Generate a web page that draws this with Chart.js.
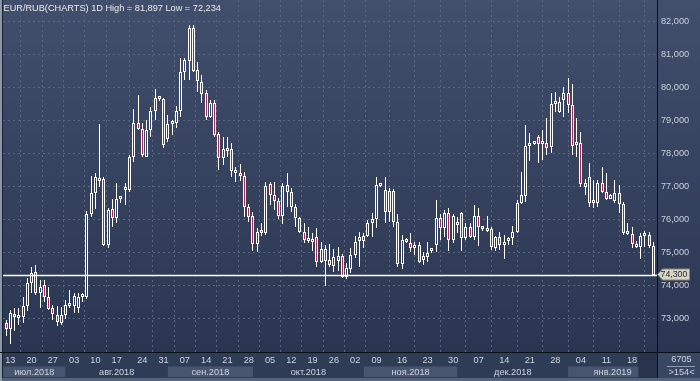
<!DOCTYPE html>
<html><head><meta charset="utf-8">
<script src="https://cdn.jsdelivr.net/npm/chart.js@4.4.1/dist/chart.umd.min.js"></script>
<style>html,body{margin:0;padding:0;background:#2f3c56;overflow:hidden}canvas{display:block}</style>
</head><body>
<canvas id="c" width="700" height="381"></canvas>
<script>
// ---- data (daily candles, EUR/RUB) ----
const open = [72.85,72.67,73.13,73.00,73.03,73.36,74.06,74.41,73.76,74.01,73.66,73.30,73.10,72.87,73.10,73.36,73.37,73.30,73.64,73.64,
76.16,76.81,77.15,77.21,75.22,76.30,76.03,76.60,76.88,76.89,77.90,78.93,78.73,77.90,78.71,79.29,79.66,79.64,78.43,78.89,
78.91,79.29,80.45,80.80,81.79,80.52,80.17,79.82,79.11,79.51,78.58,77.85,78.08,78.12,77.40,77.39,77.31,76.38,76.10,75.25,
75.60,75.59,77.07,76.74,76.56,76.10,77.04,76.84,76.36,76.03,75.63,75.34,75.33,75.45,74.72,75.09,74.77,74.57,74.75,74.89,
74.24,74.48,74.92,75.45,75.35,75.49,75.88,76.00,77.01,76.89,76.87,76.87,75.93,74.64,75.32,75.27,75.12,75.22,74.77,74.87,
75.03,75.22,76.03,75.73,76.20,75.37,75.83,76.18,75.42,75.78,75.47,76.10,75.76,75.66,75.70,75.12,75.45,75.22,75.35,75.42,
75.63,76.50,76.71,78.22,78.29,78.48,78.28,78.30,78.18,79.49,79.56,79.61,79.82,79.46,78.25,78.30,76.97,77.27,76.50,76.50,
77.11,76.84,76.63,76.56,76.81,76.46,75.55,75.55,75.17,75.17,75.49,75.52,75.19];
const high = [72.95,73.25,73.30,73.30,73.64,74.21,74.54,74.62,74.16,74.16,73.96,73.40,73.37,73.35,73.55,73.86,73.78,73.76,73.76,76.26,
77.31,77.41,78.89,77.29,76.33,76.60,77.11,76.70,77.09,77.95,79.33,79.77,78.91,79.01,79.41,79.94,79.72,79.67,79.16,79.01,
79.43,80.88,80.90,81.897,81.88,80.78,80.37,79.92,79.62,79.62,78.65,78.50,78.50,78.30,77.57,77.67,77.44,76.46,76.23,75.73,
75.90,77.14,77.14,77.14,76.66,77.09,77.39,76.94,76.46,76.08,75.88,75.76,75.57,75.73,75.32,75.22,75.25,75.09,75.15,74.95,
74.68,75.12,75.49,75.63,75.59,75.98,76.18,77.27,77.08,77.27,76.94,76.91,76.16,75.52,75.42,75.59,75.32,75.32,75.02,75.32,
75.10,76.58,76.16,76.28,76.33,76.16,76.08,76.23,75.88,75.88,76.43,76.33,75.80,76.10,75.78,75.49,75.63,75.52,75.47,75.80,
76.58,77.44,78.86,78.60,78.36,78.55,78.71,79.06,79.84,79.87,79.72,80.00,80.27,80.10,79.06,78.66,77.21,77.71,77.19,77.19,
77.57,77.39,76.78,77.19,77.04,76.53,75.90,75.78,75.35,75.59,75.66,75.63,75.32];
const low = [72.45,72.234,72.62,72.80,72.85,73.22,73.77,73.71,73.30,73.50,73.24,72.95,72.77,72.80,72.97,73.31,73.15,73.15,73.50,73.60,
76.08,76.30,76.97,75.19,75.12,75.76,75.90,76.50,76.43,76.84,77.75,78.71,77.90,77.88,78.50,79.01,79.58,78.15,78.35,78.55,
78.76,79.10,80.22,80.22,80.47,79.87,79.51,79.01,79.06,78.50,77.50,77.65,77.90,77.29,77.14,77.17,76.06,75.93,75.05,75.02,
75.49,75.52,76.43,76.28,76.00,75.86,76.38,76.23,75.76,75.57,75.27,75.29,75.05,74.54,74.67,73.98,74.54,74.41,74.44,74.21,
74.20,74.36,74.82,74.54,75.12,75.45,75.47,75.73,76.98,75.88,75.93,75.78,74.56,74.48,75.27,75.02,74.92,74.67,74.62,74.72,
74.99,75.02,75.37,75.47,75.05,75.29,75.57,75.05,75.37,75.42,75.37,75.19,75.66,75.62,75.07,75.05,75.07,74.79,75.22,75.22,
75.57,76.45,76.53,77.78,78.24,77.70,77.80,77.95,78.00,79.26,79.23,79.11,79.21,77.95,77.90,76.99,76.74,76.38,76.33,76.38,
76.79,76.58,76.60,76.50,76.20,75.52,75.52,75.12,75.12,74.79,75.17,75.12,74.28];
const close = [72.67,73.15,73.03,73.05,73.36,74.06,74.38,73.76,73.96,73.66,73.27,73.13,72.88,73.10,73.40,73.39,73.68,73.66,73.68,76.16,
76.81,77.27,77.23,75.22,76.28,76.03,76.60,76.62,76.92,77.88,78.93,78.74,77.95,78.71,79.29,79.67,79.64,78.25,78.89,78.95,
79.29,80.45,80.83,81.79,80.49,80.19,79.79,79.11,79.51,78.55,77.85,78.12,78.12,77.45,77.44,77.31,76.38,76.08,75.25,75.62,
75.59,77.01,76.74,76.56,76.10,77.01,76.84,76.38,76.03,75.63,75.37,75.37,75.31,74.72,75.09,74.75,74.62,74.85,74.89,74.26,
74.51,74.92,75.32,75.35,75.49,75.90,76.00,77.04,77.04,76.23,76.23,75.93,74.64,75.37,75.39,75.12,75.22,74.72,74.89,74.99,
75.06,76.03,75.73,76.18,75.37,76.10,75.93,75.42,75.78,75.47,76.10,75.78,75.70,75.70,75.15,75.45,75.22,75.32,75.39,75.63,
76.50,76.74,78.22,78.28,78.32,78.28,78.38,78.15,79.49,79.56,79.26,79.82,79.46,78.22,78.30,77.07,77.09,76.50,76.56,77.11,
76.84,76.63,76.74,76.81,76.46,75.57,75.59,75.24,75.24,75.49,75.52,75.19,74.30];

// week ticks: candle index of the labelled day, and the label
const weekIdx = [1,6,11,16,21,26,32,37,42,47,52,57,62,67,72,77,82,87,93,99,105,111,117,123,129,135,141,147];
const weekLabels = ['13','20','27','03','10','17','24','31','07','14','21','28','05','12','19','26','02','09','16','23','30','07','14','21','28','04','11','18'];
// months: first candle index of each month, and its label
const monthStartIdx = [-1,14,38,58,84,106,132];
const monthLabels = ['июл.2018','авг.2018','сен.2018','окт.2018','ноя.2018','дек.2018','янв.2019'];
const yTicks = [73,74,75,76,77,78,79,80,81,82];
const seriesTitle = 'EUR/RUB(CHARTS) 1D';
const infoTop = '6705';
const infoBottom = '>154<';

// ---- helpers ----
const fmt = v => v.toFixed(3).replace('.', ',');
const FONT = '9.2px "Liberation Sans", Arial, sans-serif';
let gradCache = null;
function bgGradient(ctx){
  if (!gradCache){
    gradCache = ctx.createLinearGradient(0,0,0,352);
    gradCache.addColorStop(0,'#414e6c');
    gradCache.addColorStop(1,'#2a3651');
  }
  return gradCache;
}
const idx = open.map((_, i) => i);
const lastClose = close[close.length-1];

const bgPlugin = {
  id:'bg',
  beforeDraw(chart){
    const ctx = chart.ctx, ca = chart.chartArea, xs = chart.scales.x;
    ctx.save();
    ctx.fillStyle = '#2f3c56'; ctx.fillRect(0,0,700,381);
    ctx.fillStyle = bgGradient(ctx); ctx.fillRect(0,0,700,ca.bottom);
    for (let k=0;k<monthStartIdx.length;k++){
      const x0 = k===0 ? ca.left : xs.getPixelForValue(monthStartIdx[k]);
      const x1 = k===monthStartIdx.length-1 ? ca.right : xs.getPixelForValue(monthStartIdx[k+1]);
      ctx.fillStyle = (k%2===0) ? '#48556f' : '#2f3c56';
      ctx.fillRect(x0, 366.5, x1-x0, 10.5);
    }
    ctx.fillStyle = '#3a4763'; ctx.fillRect(658, 353, 42, 25);
    ctx.fillStyle = '#56637c'; ctx.fillRect(0, 378, 700, 3);
    ctx.fillStyle = '#8a98ae'; ctx.fillRect(0,0,2,381);
    ctx.fillStyle = '#1a2232'; ctx.fillRect(2,0,1,378);
    ctx.restore();
  }
};

const snapPlugin = {
  id:'snap',
  beforeDatasetsDraw(chart){
    chart.data.datasets.forEach((ds, di) => {
      chart.getDatasetMeta(di).data.forEach(el => {
        el.x = Math.round(el.x - 0.5) + 0.5;
        el.y = Math.round(el.y);
        el.base = Math.round(el.base);
      });
    });
  }
};

const overlayPlugin = {
  id:'overlay',
  afterDatasetsDraw(chart){
    const ctx = chart.ctx, ca = chart.chartArea, xs = chart.scales.x, ys = chart.scales.y;
    ctx.save();
    const yp = Math.round(ys.getPixelForValue(lastClose)) + 0.5;
    ctx.strokeStyle = '#ffffff'; ctx.lineWidth = 1.5;
    ctx.beginPath(); ctx.moveTo(ca.left, yp); ctx.lineTo(ca.right, yp); ctx.stroke();
    const xd = xs.getPixelForValue(148.5);
    ctx.fillStyle = '#29344c';
    ctx.fillRect(xd, 353, ca.right - xd, 25);
    ctx.strokeStyle = '#0b0f18'; ctx.lineWidth = 1;
    ctx.beginPath(); ctx.moveTo(0, ca.bottom + 0.5); ctx.lineTo(700, ca.bottom + 0.5); ctx.stroke();
    ctx.beginPath(); ctx.moveTo(ca.right + 0.5, 0); ctx.lineTo(ca.right + 0.5, 378); ctx.stroke();
    ctx.font = FONT; ctx.textBaseline = 'middle'; ctx.textAlign = 'left';
    ctx.fillStyle = '#c9d1de';
    yTicks.forEach(v => ctx.fillText(fmt(v), 661, ys.getPixelForValue(v)));
    // price tag
    const ty = Math.round(ys.getPixelForValue(lastClose)) - 0.5;
    ctx.fillStyle = '#d8d6bf'; ctx.strokeStyle = '#8a8a78';
    ctx.beginPath();
    ctx.moveTo(657.5, ty); ctx.lineTo(662.5, ty - 5.5); ctx.lineTo(689.5, ty - 5.5);
    ctx.lineTo(689.5, ty + 5.5); ctx.lineTo(662.5, ty + 5.5); ctx.closePath();
    ctx.fill(); ctx.stroke();
    ctx.fillStyle = '#1b2540';
    ctx.font = '8.8px "Liberation Sans", Arial, sans-serif';
    ctx.fillText(fmt(lastClose), 660.5, ty + 0.5);
    ctx.font = FONT;
    ctx.fillStyle = '#cdd4e0'; ctx.textAlign = 'center';
    weekIdx.forEach((wi, k) => ctx.fillText(weekLabels[k], xs.getPixelForValue(wi), 360));
    for (let k=0;k<monthStartIdx.length;k++){
      const x0 = k===0 ? ca.left : xs.getPixelForValue(monthStartIdx[k]);
      const x1 = k===monthStartIdx.length-1 ? ca.right : xs.getPixelForValue(monthStartIdx[k+1]);
      ctx.fillText(monthLabels[k], (x0+x1)/2, 372);
    }
    ctx.fillText(infoTop, 681.5, 359.5);
    ctx.fillText(infoBottom, 681.5, 372);
    ctx.strokeStyle = '#8d99ad';
    ctx.beginPath(); ctx.moveTo(667, 366.5); ctx.lineTo(695, 366.5); ctx.stroke();
    const hi = Math.max(...high), lo = Math.min(...low);
    ctx.textAlign = 'left'; ctx.fillStyle = '#e8ebf0';
    ctx.fillText(`${seriesTitle} High = ${fmt(hi)} Low = ${fmt(lo)}`, 3.5, 8);
    ctx.restore();
  }
};

new Chart(document.getElementById('c'), {
  data: {
    datasets: [
      { type:'bar', label:'wick', data: idx.map(i => ({x:i, y:[low[i], high[i]]})),
        backgroundColor:'#ffffff', borderWidth:0, barThickness:1, grouped:false, inflateAmount:0, order:2 },
      { type:'bar', label:'body', data: idx.map(i => ({x:i, y:[open[i], close[i]]})),
        backgroundColor: c => (close[c.dataIndex] >= open[c.dataIndex]) ? bgGradient(c.chart.ctx) : '#a8294b',
        borderColor:'#ffffff', borderWidth:1, borderSkipped:false, barThickness:3, minBarLength:3,
        grouped:false, inflateAmount:0, order:1 }
    ]
  },
  options: {
    responsive:false, animation:false, devicePixelRatio:1,
    layout:{ padding:{ left:3, right:43, top:0, bottom:29 } },
    plugins:{ legend:{display:false}, tooltip:{enabled:false} },
    scales:{
      x:{ type:'linear', min:-0.7045, max:152.868, offset:false,
          afterBuildTicks: s => { s.ticks = weekIdx.map(v => ({value:v})); },
          afterFit: s => { s.height = 0; },
          ticks:{ display:false }, grid:{ color:'#56647f', lineWidth:1, drawTicks:false },
          border:{ display:false, dash:[2,3] } },
      y:{ type:'linear', position:'right', min:71.979, max:82.645,
          afterBuildTicks: s => { s.ticks = yTicks.map(v => ({value:v})); },
          afterFit: s => { s.width = 0; },
          ticks:{ display:false }, grid:{ color:'#56647f', lineWidth:1, drawTicks:false },
          border:{ display:false, dash:[2,3] } }
    }
  },
  plugins:[bgPlugin, snapPlugin, overlayPlugin]
});
</script>
</body></html>
